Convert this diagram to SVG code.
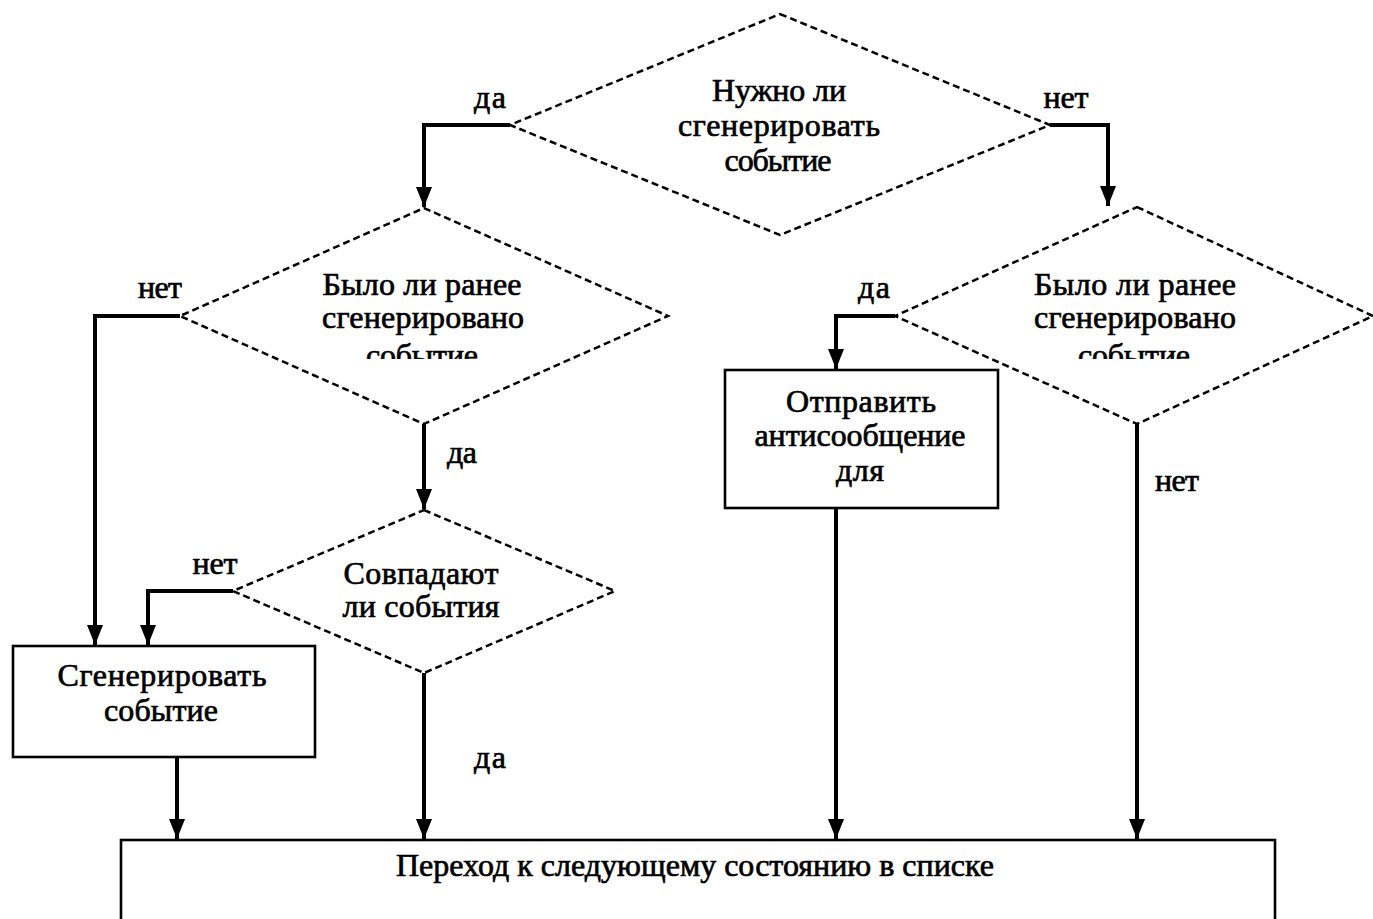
<svg xmlns="http://www.w3.org/2000/svg" width="1373" height="919" viewBox="0 0 1373 919">
<style>
.dia{fill:none;stroke:#000;stroke-width:2.5;stroke-dasharray:7 4}
.box{fill:#fff;stroke:#000;stroke-width:2.6}
.t{font-family:"Liberation Serif","Times New Roman",serif;font-size:32px;fill:#000;text-anchor:middle;stroke:#000;stroke-width:0.7}
.con{fill:none;stroke:#000;stroke-width:4}
</style>
<defs>
<marker id="ah" markerUnits="userSpaceOnUse" markerWidth="21" markerHeight="18" refX="20" refY="9" orient="auto" viewBox="0 0 21 18">
<path d="M0,1 L20,9 L0,17 Z" fill="#000"/>
</marker>
<clipPath id="c2"><rect x="180" y="200" width="490" height="159"/></clipPath>
<clipPath id="c3"><rect x="895" y="200" width="478" height="159"/></clipPath>
</defs>
<rect width="1373" height="919" fill="#fff"/>
<g id="connectors">
<path class="con" d="M510,125 H424 V207" marker-end="url(#ah)"/>
<path class="con" d="M1050,125 H1108 V206" marker-end="url(#ah)"/>
<path class="con" d="M180,316 H95 V645" marker-end="url(#ah)"/>
<path class="con" d="M424,424 V509" marker-end="url(#ah)"/>
<path class="con" d="M233,591 H148 V645" marker-end="url(#ah)"/>
<path class="con" d="M424,673 V839" marker-end="url(#ah)"/>
<path class="con" d="M895,316 H836 V369" marker-end="url(#ah)"/>
<path class="con" d="M1137,424 V839" marker-end="url(#ah)"/>
<path class="con" d="M177,757 V839" marker-end="url(#ah)"/>
<path class="con" d="M836,508 V839" marker-end="url(#ah)"/>
<text class="t" x="490" y="108" textLength="32">да</text>
<text class="t" x="1066" y="108" textLength="45">нет</text>
<text class="t" x="160" y="298" textLength="44">нет</text>
<text class="t" x="462" y="463" textLength="30">да</text>
<text class="t" x="215" y="574" textLength="45">нет</text>
<text class="t" x="490" y="768" textLength="32">да</text>
<text class="t" x="874" y="298" textLength="32">да</text>
<text class="t" x="1177" y="491" textLength="44">нет</text>
</g>
<g id="d1">
<polygon class="dia" points="780,14 1050,125 780,235 510,125"/>
<text class="t" x="779" y="101" textLength="134">Нужно ли</text>
<text class="t" x="779" y="136" textLength="202">сгенерировать</text>
<text class="t" x="778" y="171" textLength="107">событие</text>
</g>
<g id="d2">
<polygon class="dia" points="424,208 668,316 424,424 180,316"/>
<text class="t" x="422" y="295" textLength="199">Было ли ранее</text>
<text class="t" x="423" y="328" textLength="202">сгенерировано</text>
<text class="t" x="422" y="366" textLength="112" clip-path="url(#c2)">событие</text>
</g>
<g id="d3">
<polygon class="dia" points="1137,207 1373,316 1137,424 895,316"/>
<text class="t" x="1135" y="295" textLength="202">Было ли ранее</text>
<text class="t" x="1135" y="328" textLength="202">сгенерировано</text>
<text class="t" x="1134" y="366" textLength="112" clip-path="url(#c3)">событие</text>
</g>
<g id="d4">
<polygon class="dia" points="424,510 615,591 424,673 233,591"/>
<text class="t" x="421" y="584" textLength="155">Совпадают</text>
<text class="t" x="421" y="617" textLength="157">ли события</text>
</g>
<g id="b1">
<rect class="box" x="13" y="646" width="302" height="111"/>
<text class="t" x="162" y="686" textLength="209">Сгенерировать</text>
<text class="t" x="161" y="721" textLength="114">событие</text>
</g>
<g id="b2">
<rect class="box" x="725" y="370" width="273" height="138"/>
<text class="t" x="861" y="412" textLength="150">Отправить</text>
<text class="t" x="860" y="446" textLength="211">антисообщение</text>
<text class="t" x="860" y="481" textLength="48">для</text>
</g>
<g id="b3">
<rect class="box" x="121" y="840" width="1154" height="100"/>
<text class="t" x="695" y="876" textLength="598">Переход к следующему состоянию в списке</text>
</g>
</svg>
